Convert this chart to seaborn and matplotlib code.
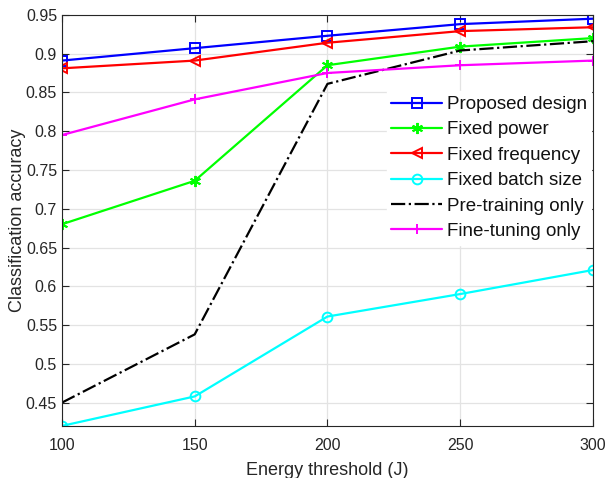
import numpy as np
import pandas as pd
import matplotlib
matplotlib.use("Agg")
import matplotlib.pyplot as plt
import seaborn as sns

energy = [100, 150, 200, 250, 300]
proposed = [0.891, 0.907, 0.923, 0.938, 0.945]
fixed_power = [0.680, 0.736, 0.885, 0.909, 0.920]
fixed_frequency = [0.881, 0.891, 0.914, 0.929, 0.934]
fixed_batch = [0.420, 0.458, 0.561, 0.590, 0.621]
pretrain_only = [0.450, 0.538, 0.861, 0.904, 0.916]
finetune_only = [0.795, 0.841, 0.875, 0.885, 0.891]

asterisk = (6, 2, 0)
series = [
    ("Proposed design", proposed, "#0000ff", "s", "-"),
    ("Fixed power", fixed_power, "#00ff00", asterisk, "-"),
    ("Fixed frequency", fixed_frequency, "#ff0000", "<", "-"),
    ("Fixed batch size", fixed_batch, "#00ffff", "o", "-"),
    ("Pre-training only", pretrain_only, "#000000", None, "-."),
    ("Fine-tuning only", finetune_only, "#ff00ff", "+", "-"),
]

sns.set_theme(style="white")
plt.rcParams["font.family"] = ["Liberation Sans", "DejaVu Sans"]
text_c = "#262626"

fig = plt.figure(figsize=(6.07, 4.78), dpi=100)
ax = fig.add_axes([0.102, 0.109, 0.875, 0.860])

for name, vals, col, mk, ls in series:
    df = pd.DataFrame({"x": energy, "y": vals})
    if mk is None:
        kw = {}
    else:
        hollow = isinstance(mk, str) and mk in ("s", "<", "o")
        kw = dict(marker=mk, markersize=8 if mk == asterisk else 7,
                  markerfacecolor="none" if hollow else col,
                  markeredgecolor=col, markeredgewidth=1.4)
    sns.lineplot(data=df, x="x", y="y", ax=ax, color=col, linestyle=ls,
                 linewidth=1.6, label=name, **kw)

ax.set_xlim(100, 300)
ax.set_ylim(0.42, 0.95)
ax.set_xticks(energy)
ax.set_xticklabels([str(v) for v in energy])
yt = [0.45, 0.5, 0.55, 0.6, 0.65, 0.7, 0.75, 0.8, 0.85, 0.9, 0.95]
ax.set_yticks(yt)
ax.set_yticklabels([f"{v:g}" for v in yt])
ax.grid(True, color="#e3e3e3", linewidth=0.9)
ax.set_axisbelow(True)
ax.tick_params(direction="in", length=5, width=0.8, colors=text_c,
               labelsize=11.5, top=True, right=True, bottom=True, left=True)
ax.tick_params(axis="x", pad=9)
for s in ax.spines.values():
    s.set_color(text_c)
    s.set_linewidth(0.8)
ax.set_xlabel("Energy threshold (J)", fontsize=13, color=text_c, labelpad=6)
ax.set_ylabel("Classification accuracy", fontsize=13, color=text_c, labelpad=0)

leg = ax.legend(loc="upper right", bbox_to_anchor=(0.997, 0.814), frameon=True,
                fontsize=13.5, handlelength=2.7, handletextpad=0.25,
                borderpad=0.25, labelspacing=0.44, borderaxespad=0.0)
leg.get_frame().set_facecolor("white")
leg.get_frame().set_edgecolor("white")
leg.get_frame().set_alpha(1.0)
leg.get_frame().set_boxstyle("square", pad=0.0)
for t in leg.get_texts():
    t.set_color("#111111")

fig.savefig("out.png", dpi=100)
